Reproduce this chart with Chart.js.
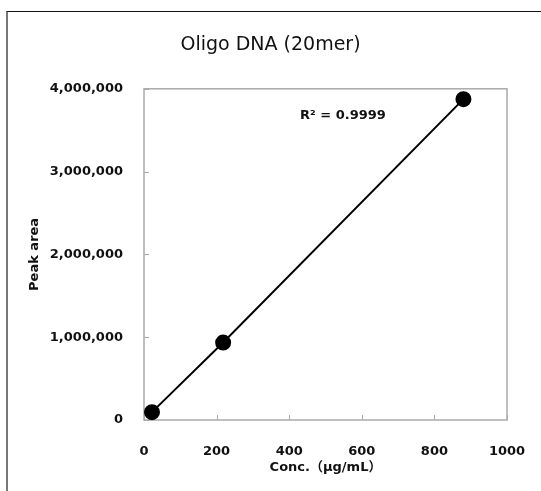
<!DOCTYPE html>
<html>
<head>
<meta charset="utf-8">
<script src="https://cdn.jsdelivr.net/npm/chart.js@4/dist/chart.umd.min.js"></script>
<style>
    html, body { margin: 0; padding: 0; background: #fff; overflow: hidden; }
    #frame {
        position: absolute; left: 6px; top: 11px; width: 700px; height: 700px;
        border-top: 1px solid #111; border-left: 2px solid #777;
    }
    #chart { position: absolute; left: 0; top: 0; }
</style>
</head>
<body>
<div id="frame"></div>
<canvas id="chart" width="541" height="491"></canvas>
<script>
// Datos
const concs = [22, 218, 880];
const areas = [95000, 935000, 3875000];
const xTicks = [0, 200, 400, 600, 800, 1000];
const yTicks = [0, 1000000, 2000000, 3000000, 4000000];
const r2Label = 'R² = 0.9999';

const tickFont = { family: 'DejaVu Sans', size: 13, weight: 'bold' };

// Borde del área y marcas de graduación hacia dentro
const framePlugin = {
    id: 'framePlugin',
    beforeDatasetsDraw(chart) {
        const { ctx, chartArea: a, scales } = chart;
        ctx.save();
        ctx.strokeStyle = '#aaa';
        ctx.lineWidth = 1.5;
        ctx.strokeRect(a.left, a.top, a.right - a.left, a.bottom - a.top);
        ctx.lineWidth = 1;
        ctx.beginPath();
        xTicks.forEach(v => {
            const px = Math.round(scales.x.getPixelForValue(v)) + 0.5;
            ctx.moveTo(px, a.bottom);
            ctx.lineTo(px, a.bottom - 5);
        });
        yTicks.forEach(v => {
            const py = Math.round(scales.y.getPixelForValue(v)) + 0.5;
            ctx.moveTo(a.left, py);
            ctx.lineTo(a.left + 5, py);
        });
        ctx.stroke();
        ctx.restore();
    },
    afterDraw(chart) {
        const { ctx, chartArea: a } = chart;
        ctx.save();
        ctx.fillStyle = '#111';
        ctx.font = 'bold 13px "DejaVu Sans"';
        ctx.textBaseline = 'middle';
        ctx.fillText(r2Label, a.left + 156, a.top + 27);
        ctx.restore();
    }
};

const ctx = document.getElementById('chart').getContext('2d');
new Chart(ctx, {
    type: 'scatter',
    data: {
        datasets: [{
            label: 'Peak area',
            data: concs.map((c, i) => ({ x: c, y: areas[i] })),
            showLine: true,
            borderColor: '#000',
            borderWidth: 2,
            backgroundColor: '#000',
            pointRadius: 7,
            pointHoverRadius: 7,
            clip: false
        }]
    },
    options: {
        responsive: false,
        animation: false,
        layout: { padding: { left: 0, right: 0, top: 34, bottom: 16 } },
        plugins: {
            legend: { display: false },
            tooltip: { enabled: false },
            title: {
                display: true,
                text: 'Oligo DNA (20mer)',
                color: '#111',
                font: { family: 'DejaVu Sans', size: 19, weight: 'normal' },
                padding: { top: 0, bottom: 32 }
            }
        },
        scales: {
            x: {
                type: 'linear',
                min: 0, max: 1000,
                afterFit(s) { s.height = 55; s.paddingRight = 34; },
                afterBuildTicks(s) { s.ticks = xTicks.map(v => ({ value: v })); },
                grid: { display: false, drawTicks: false },
                border: { display: false },
                ticks: { color: '#111', font: tickFont, padding: 24, maxRotation: 0, callback: v => String(v) },
                title: {
                    display: true,
                    text: 'Conc.（μg/mL）',
                    color: '#111',
                    font: { family: 'DejaVu Sans, Noto Sans CJK JP', size: 13, weight: 'bold' },
                    padding: { top: 0, bottom: 0 }
                }
            },
            y: {
                type: 'linear',
                min: 0, max: 4000000,
                afterFit(s) { s.width = 144; },
                afterBuildTicks(s) { s.ticks = yTicks.map(v => ({ value: v })); },
                grid: { display: false, drawTicks: false },
                border: { display: false },
                ticks: {
                    color: '#111', font: tickFont, padding: 21,
                    callback: v => v.toLocaleString('en-US')
                },
                title: {
                    display: true,
                    text: 'Peak area',
                    color: '#111',
                    font: { family: 'DejaVu Sans', size: 13, weight: 'bold' },
                    padding: { top: 27, bottom: 0 }
                }
            }
        }
    },
    plugins: [framePlugin]
});
</script>
</body>
</html>
